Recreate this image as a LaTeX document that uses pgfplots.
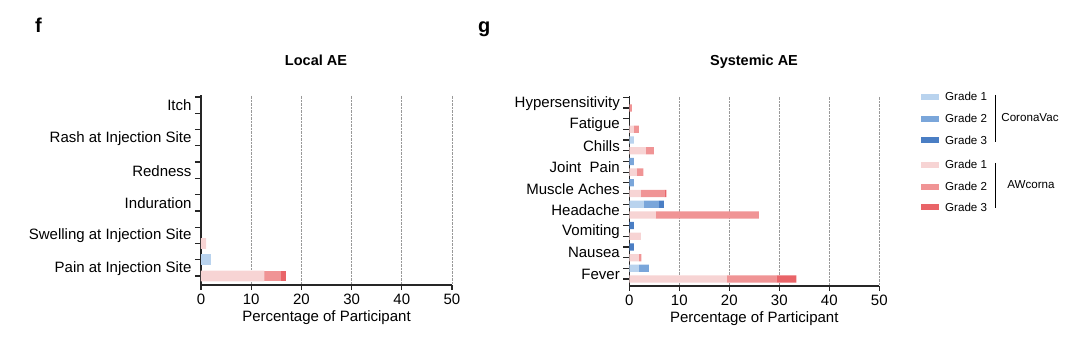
\documentclass[border=0pt]{standalone}
\usepackage{pgfplots}
\pgfplotsset{compat=1.18}
\usepackage{pgfplotstable}
\usepackage{fontspec}
\setmainfont{Liberation Sans}

\definecolor{cbA}{HTML}{B9D3EE}
\definecolor{cbB}{HTML}{7AA6DA}
\definecolor{cbC}{HTML}{4A7EC4}
\definecolor{awA}{HTML}{F7D4D4}
\definecolor{awB}{HTML}{F09495}
\definecolor{awC}{HTML}{E96468}

% rows: even = AWcorna, odd = CoronaVac (bottom category first)
\pgfplotstableread{
y  cb1 cb2 cb3 aw1  aw2 aw3
0  0   0   0   12.6 3.4 1.0
1  1.9 0   0   0    0   0
2  0   0   0   1.0  0   0
3  0   0   0   0    0   0
4  0   0   0   0    0   0
5  0   0   0   0    0   0
6  0   0   0   0    0   0
7  0   0   0   0    0   0
8  0   0   0   0    0   0
9  0   0   0   0    0   0
10 0   0   0   0    0   0
11 0   0   0   0    0   0
}\localdata

\pgfplotstableread{
y  cb1 cb2 cb3 aw1  aw2  aw3
0  0   0   0   19.5 9.9  4.0
1  1.9 2.0 0   0    0    0
2  0   0   0   1.9  0.5  0
3  0   0   0.9 0    0    0
4  0   0   0   2.3  0    0
5  0   0   0.9 0    0    0
6  0   0   0   5.3  20.6 0
7  2.9 3.0 1.0 0    0    0
8  0   0   0   2.3  4.7  0.4
9  0   0.9 0   0    0    0
10 0   0   0   1.5  1.3  0
11 0   0.9 0   0    0    0
12 0   0   0   3.3  1.6  0
13 0.9 0   0   0    0    0
14 0   0   0   0.9  1.0  0
15 0   0   0   0    0    0
16 0   0   0   0    0.5  0
17 0   0   0   0    0    0
}\sysdata

\pgfplotsset{
  aestyle/.style={
    scale only axis,
    clip=false,
    height=190pt,
    xbar stacked,
    bar width=0.67,
    xmin=0, xmax=50,
    xtick={0,10,...,50},
    axis x line*=bottom,
    axis y line*=left,
    axis line style={line width=1.3pt, black!85},
    tick align=outside,
    major tick length=5pt,
    tick style={line width=1.2pt, black!85},
    major y tick style={/pgfplots/major tick length=6pt, draw=black!85, line width=1.2pt, solid},
    xmajorgrids,
    grid style={densely dotted, line width=0.7pt, gray!80},
    tick label style={font=\fontsize{15}{15}\selectfont},
    yticklabel style={xshift=-1pt},
    /pgf/number format/assume math mode=true,
    every axis plot/.append style={draw=none},
    xlabel style={font=\fontsize{15}{15}\selectfont},
  }
}

\begin{document}
\begin{tikzpicture}
\useasboundingbox (0pt,0pt) rectangle (1080pt,353pt);

% panel letters and titles
\node[anchor=base west, inner sep=0, font=\bfseries\fontsize{20}{20}\selectfont] at (35pt,320pt) {f};
\node[anchor=base west, inner sep=0, font=\bfseries\fontsize{20}{20}\selectfont] at (478pt,320pt) {g};
\node[anchor=base, inner sep=0, font=\bfseries\fontsize{14.5}{14.5}\selectfont] at (316pt,287.5pt) {Local AE};
\node[anchor=base, inner sep=0, font=\bfseries\fontsize{14.5}{14.5}\selectfont] at (754pt,287.5pt) {Systemic AE};

% Local AE
\begin{axis}[aestyle,
  at={(201pt,68pt)}, anchor=south west,
  width=251pt,
  ymin=-0.55, ymax=11.12,
  ytick={0,...,11},
  yticklabels={Pain at Injection Site,,Swelling at Injection Site,,Induration,,Redness,,Rash at Injection Site,,Itch,},
  yticklabel style={yshift=7.6pt},
  xlabel={Percentage of Participant},
]
\addplot[fill=cbA] table[x=cb1,y=y]{\localdata};
\addplot[fill=cbB] table[x=cb2,y=y]{\localdata};
\addplot[fill=cbC] table[x=cb3,y=y]{\localdata};
\addplot[fill=awA] table[x=aw1,y=y]{\localdata};
\addplot[fill=awB] table[x=aw2,y=y]{\localdata};
\addplot[fill=awC] table[x=aw3,y=y]{\localdata};
\pgfplotsinvokeforeach{0,...,11}{
  \draw[line width=1.2pt, black!85] (axis cs:0,#1) -- ++(-6pt,0pt);
}
\end{axis}

% Systemic AE
\begin{axis}[aestyle,
  at={(629.3pt,67pt)}, anchor=south west,
  width=250pt,
  ymin=-0.65, ymax=17.12,
  bar width=0.68,
  ytick={0,...,17},
  yticklabels={Fever,,Nausea,,Vomiting,,Headache,,Muscle Aches,,{Joint\ \ Pain},,Chills,,Fatigue,,Hypersensitivity,},
  yticklabel style={yshift=4.8pt},
  xlabel={Percentage of Participant},
]
\addplot[fill=cbA] table[x=cb1,y=y]{\sysdata};
\addplot[fill=cbB] table[x=cb2,y=y]{\sysdata};
\addplot[fill=cbC] table[x=cb3,y=y]{\sysdata};
\addplot[fill=awA] table[x=aw1,y=y]{\sysdata};
\addplot[fill=awB] table[x=aw2,y=y]{\sysdata};
\addplot[fill=awC] table[x=aw3,y=y]{\sysdata};
\pgfplotsinvokeforeach{0,...,17}{
  \draw[line width=1.2pt, black!85] (axis cs:0,#1) -- ++(-6pt,0pt);
}
\end{axis}

% legend
\begin{scope}[every node/.style={font=\fontsize{11.6}{11.6}\selectfont, inner sep=0}]
\foreach \c/\t/\yy in {cbA/Grade 1/96.7, cbB/Grade 2/118.7, cbC/Grade 3/140, awA/Grade 1/164.7, awB/Grade 2/186.7, awC/Grade 3/207.3}{
  \fill[\c] (920.7pt,{353pt-\yy pt-3pt}) rectangle (939.3pt,{353pt-\yy pt+3pt});
  \node[anchor=west] at (945pt,{353pt-\yy pt}) {\t};
}
\draw[line width=1pt] (995pt,{353pt-95pt}) -- (995pt,{353pt-141.7pt});
\draw[line width=1pt] (995pt,{353pt-163pt}) -- (995pt,{353pt-208pt});
\node at (1030pt,{353pt-118pt}) {CoronaVac};
\node at (1031pt,{353pt-185pt}) {AWcorna};
\end{scope}
\end{tikzpicture}
\end{document}
